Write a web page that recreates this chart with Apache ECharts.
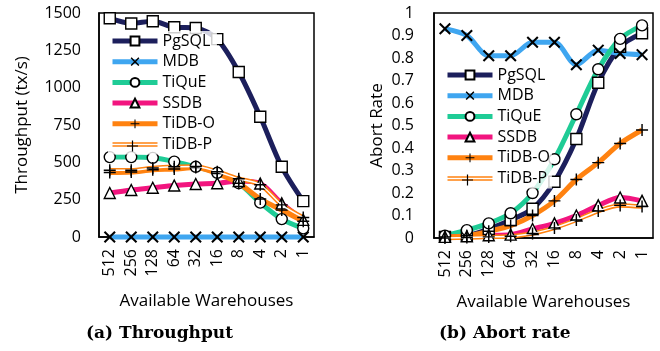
<!DOCTYPE html>
<html><head><meta charset="utf-8">
<script src="https://cdn.jsdelivr.net/npm/echarts@6/dist/echarts.min.js"></script>
<style>html,body{margin:0;padding:0;background:#fff}#c{width:660px;height:351px}</style>
</head><body><div id="c"></div>
<script>
const categories = ['512','256','128','64','32','16','8','4','2','1'];
const seriesNames = ['PgSQL','MDB','TiQuE','SSDB','TiDB-O','TiDB-P'];
const tpPgSQL = [1465, 1430, 1445, 1405, 1400, 1325, 1105, 805, 470, 240];
const tpMDB   = [0, 0, 0, 0, 0, 0, 0, 0, 0, 0];
const tpTiQuE = [535, 535, 530, 505, 470, 430, 360, 230, 120, 58];
const tpSSDB  = [295, 315, 330, 345, 355, 360, 375, 358, 225, 115];
const tpTiDBO = [432, 435, 450, 455, 465, 425, 360, 255, 180, 105];
const tpTiDBP = [447, 447, 462, 470, 472, 437, 390, 350, 215, 130];
const arPgSQL = [0.005, 0.01, 0.04, 0.08, 0.13, 0.25, 0.44, 0.69, 0.85, 0.91];
const arMDB   = [0.93, 0.90, 0.81, 0.81, 0.87, 0.87, 0.77, 0.835, 0.82, 0.815];
const arTiQuE = [0.01, 0.035, 0.065, 0.11, 0.20, 0.35, 0.55, 0.75, 0.885, 0.945];
const arSSDB  = [0.005, 0.008, 0.012, 0.015, 0.04, 0.065, 0.10, 0.145, 0.18, 0.165];
const arTiDBO = [0.005, 0.01, 0.03, 0.055, 0.10, 0.165, 0.26, 0.335, 0.42, 0.48];
const arTiDBP = [0.0, 0.002, 0.005, 0.008, 0.02, 0.045, 0.08, 0.12, 0.145, 0.14];
const tpTicks = [0, 250, 500, 750, 1000, 1250, 1500];
const arTicks = [0, 0.1, 0.2, 0.3, 0.4, 0.5, 0.6, 0.7, 0.8, 0.9, 1];

const FONT = 'Open Sans';
const ORANGE = '#ff8210';
const colors = {PgSQL:'#1c1f5c', MDB:'#3fa6f0', TiQuE:'#1fcc96', SSDB:'#f2157f', 'TiDB-O':ORANGE, 'TiDB-P':ORANGE};
const XPATH = 'path://M0,1.2L1.2,0L5,3.8L8.8,0L10,1.2L6.2,5L10,8.8L8.8,10L5,6.2L1.2,10L0,8.8L3.8,5Z';
const PLUS = 'path://M4.4,0H5.6V4.4H10V5.6H5.6V10H4.4V5.6H0V4.4H4.4Z';
const symbols = {PgSQL:'rect', MDB:XPATH, TiQuE:'circle', SSDB:'triangle', 'TiDB-O':PLUS, 'TiDB-P':PLUS};
// legend icon for TiDB-P: two thin strips (double line), in a 45x11 box
const DOUBLE = 'path://M0,3.2H45V4.8H0Z M0,6.2H45V7.8H0Z M0,0.01L0.01,0L0,0Z M45,11L44.99,11L45,10.99Z';
// legend overlay icon: black plus centred in a 45x11 box
const PLUS45 = 'path://M21.9,0H23.1V4.9H28V6.1H23.1V11H21.9V6.1H17V4.9H21.9Z M0,0.01L0.01,0L0,0Z M45,11L44.99,11L45,10.99Z';

function mkSeries(name, data, idx) {
  const sym = symbols[name];
  const filled = (sym === XPATH || sym === PLUS);
  const isP = name === 'TiDB-P';
  return {
    name: name, type: 'line', xAxisIndex: idx, yAxisIndex: idx, data: data,
    smooth: 0.3, clip: false,
    symbol: isP ? 'none' : sym,
    symbolSize: filled ? 12 : 11,
    lineStyle: {color: colors[name], width: isP ? 4.5 : 5},
    itemStyle: isP ? {color: ORANGE} : (filled ? {color: '#000', borderWidth: 0} : {color: '#fff', borderColor: '#000', borderWidth: 1.4}),
    emphasis: {disabled: true}, z: 2
  };
}
function innerP(data, idx) {
  return {
    name: 'TiDB-P-inner', type: 'line', xAxisIndex: idx, yAxisIndex: idx, data: data,
    smooth: 0.3, clip: false, symbol: PLUS, symbolSize: 12,
    lineStyle: {color: '#ffffff', width: 1.4},
    itemStyle: {color: '#000000', borderWidth: 0},
    emphasis: {disabled: true}, z: 4
  };
}

const series = [];
[tpPgSQL, tpMDB, tpTiQuE, tpSSDB, tpTiDBO, tpTiDBP].forEach((d, i) => series.push(mkSeries(seriesNames[i], d, 0)));
series.push(innerP(tpTiDBP, 0));
[arPgSQL, arMDB, arTiQuE, arSSDB, arTiDBO, arTiDBP].forEach((d, i) => series.push(mkSeries(seriesNames[i], d, 1)));
series.push(innerP(arTiDBP, 1));

const axisLabel = {fontFamily: FONT, fontSize: 16, color: '#000'};
function xAx(idx) {
  return {
    type: 'category', gridIndex: idx, data: categories, boundaryGap: true,
    axisLine: {lineStyle: {color: '#000', width: 1.5}}, axisTick: {show: false},
    axisLabel: Object.assign({rotate: 90, margin: 12}, axisLabel),
    name: 'Available Warehouses', nameLocation: 'middle', nameGap: 56,
    nameTextStyle: {fontFamily: FONT, fontSize: 17, color: '#000'}
  };
}
const GAP = 4.7, STEP = 21;
const legendData = seriesNames.map(n => n === 'TiDB-P' ? {name: n, icon: DOUBLE, itemStyle: {color: ORANGE}} : n);
function mainLegend(left, top) {
  return {orient: 'vertical', itemWidth: 45, itemHeight: 11, itemGap: GAP, padding: 2,
    textStyle: {fontFamily: FONT, fontSize: 16, color: '#000'}, selectedMode: false,
    data: legendData, left: left, top: top, backgroundColor: 'rgba(255,255,255,0.8)',
    lineStyle: {width: 5}, z: 10};
}
function plusLegend(left, top) {
  return {orient: 'vertical', itemWidth: 45, itemHeight: 11, padding: 2,
    textStyle: {fontFamily: FONT, fontSize: 16, color: 'rgba(0,0,0,0)'}, selectedMode: false,
    data: [{name: 'TiDB-P-inner', icon: PLUS45, itemStyle: {color: '#000'}}],
    left: left, top: top, formatter: 'TiDB-P', z: 20};
}

const option = {
  animation: false,
  grid: [
    {left: 99, right: 346, top: 13, bottom: 114, show: true, borderColor: '#000', borderWidth: 1.5},
    {left: 434, right: 7, top: 13, bottom: 113, show: true, borderColor: '#000', borderWidth: 1.5}
  ],
  xAxis: [xAx(0), xAx(1)],
  yAxis: [
    {type: 'value', gridIndex: 0, min: tpTicks[0], max: tpTicks[tpTicks.length-1], interval: 250,
     axisLine: {show: true, lineStyle: {color: '#000', width: 1.5}}, axisTick: {show: false}, splitLine: {show: false},
     axisLabel: Object.assign({margin: 18, formatter: v => String(v)}, axisLabel),
     name: 'Throughput (tx/s)', nameLocation: 'middle', nameGap: 68,
     nameTextStyle: {fontFamily: FONT, fontSize: 17, color: '#000'}},
    {type: 'value', gridIndex: 1, min: arTicks[0], max: arTicks[arTicks.length-1], interval: 0.1,
     axisLine: {show: true, lineStyle: {color: '#000', width: 1.5}}, axisTick: {show: false}, splitLine: {show: false},
     axisLabel: Object.assign({margin: 20, formatter: v => String(Math.round(v * 10) / 10)}, axisLabel),
     name: 'Abort Rate', nameLocation: 'middle', nameGap: 48,
     nameTextStyle: {fontFamily: FONT, fontSize: 17, color: '#000'}}
  ],
  legend: [
    mainLegend(108, 31),
    plusLegend(108, 31 + 5*STEP),
    mainLegend(443, 65),
    plusLegend(443, 65 + 5*STEP)
  ],
  graphic: [
    {type: 'text', left: 164 - 78, top: 325, style: {text: '(a) Throughput', font: 'bold 17px "DejaVu Serif"', fill: '#000'}},
    {type: 'text', left: 508 - 69, top: 325, style: {text: '(b) Abort rate', font: 'bold 17px "DejaVu Serif"', fill: '#000'}}
  ],
  series: series
};
const chart = echarts.init(document.getElementById('c'), null, {renderer: 'canvas'});
chart.setOption(option);
</script></body></html>
